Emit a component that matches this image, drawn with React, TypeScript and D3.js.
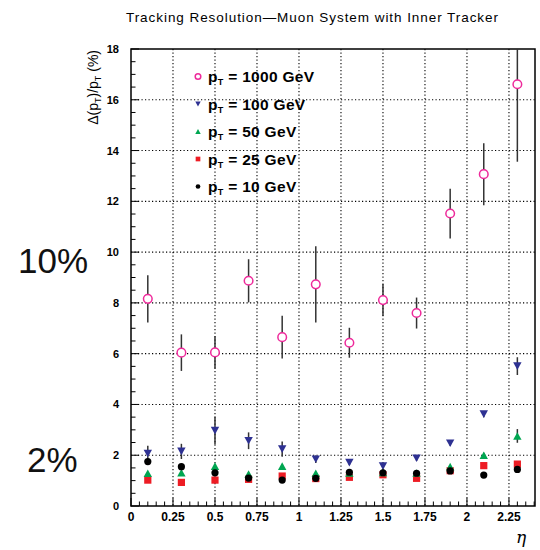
import React from "react";
import * as d3 from "d3";

// eta bin centres
const etaBins = [0.1, 0.3, 0.5, 0.7, 0.9, 1.1, 1.3, 1.5, 1.7, 1.9, 2.1, 2.3];

// resolution in % and errors
const res1000 = [8.16, 6.04, 6.05, 8.87, 6.65, 8.73, 6.43, 8.11, 7.6, 11.52, 13.07, 16.61];
const err1000 = [0.93, 0.72, 0.64, 0.85, 0.84, 1.5, 0.59, 0.63, 0.61, 0.98, 1.22, 3.05];
const res100 = [2.07, 2.15, 2.97, 2.57, 2.24, 1.84, 1.71, 1.57, 1.88, 2.47, 3.62, 5.51];
const err100 = [0.3, 0.3, 0.55, 0.33, 0.3, 0.15, 0.1, 0.1, 0.1, 0.1, 0.12, 0.35];
const res50 = [1.29, 1.31, 1.57, 1.26, 1.57, 1.29, 1.3, 1.32, 1.3, 1.55, 2.0, 2.76];
const err50 = [0.05, 0.05, 0.06, 0.05, 0.06, 0.05, 0.05, 0.05, 0.05, 0.06, 0.1, 0.27];
const res25 = [1.02, 0.93, 1.02, 1.05, 1.18, 1.08, 1.13, 1.23, 1.09, 1.39, 1.59, 1.65];
const res10 = [1.75, 1.55, 1.31, 1.1, 1.02, 1.09, 1.33, 1.31, 1.29, 1.38, 1.22, 1.44];

const legendLabels = ["1000 GeV", "100 GeV", "50 GeV", "25 GeV", "10 GeV"];
const xTicks = [0, 0.25, 0.5, 0.75, 1, 1.25, 1.5, 1.75, 2, 2.25];
const yTicks = [0, 2, 4, 6, 8, 10, 12, 14, 16, 18];

const width = 540;
const height = 550;
const left = 131, right = 535, top = 49, bottom = 506;

const PINK = "#ee2a9b";
const NAVY = "#2e3192";
const GREEN = "#00a651";
const RED = "#ed1c24";

function Marker({ kind, cx, cy, s = 1 }) {
  if (kind === "open")
    return <circle cx={cx} cy={cy} r={4.3 * s} fill="#fff" stroke={PINK} strokeWidth={1.5} />;
  if (kind === "down") {
    const w = 4.2 * s, h = 3.8 * s;
    return <path d={`M${cx - w},${cy - h}L${cx + w},${cy - h}L${cx},${cy + h}Z`} fill={NAVY} />;
  }
  if (kind === "up") {
    const w = 4.2 * s, h = 3.8 * s;
    return <path d={`M${cx - w},${cy + h}L${cx + w},${cy + h}L${cx},${cy - h}Z`} fill={GREEN} />;
  }
  if (kind === "square")
    return <rect x={cx - 3.6 * s} y={cy - 3.6 * s} width={7.2 * s} height={7.2 * s} fill={RED} />;
  return <circle cx={cx} cy={cy} r={3.6 * s} fill="#000" />;
}

export default function App() {
  const x = d3.scaleLinear().domain([0, 2.405]).range([left, right]);
  const y = d3.scaleLinear().domain([0, 18]).range([bottom, top]);

  const series = [
    { kind: "open", vals: res1000, errs: err1000 },
    { kind: "down", vals: res100, errs: err100 },
    { kind: "up", vals: res50, errs: err50 },
    { kind: "square", vals: res25, errs: res25.map(() => 0.04) },
    { kind: "dot", vals: res10, errs: res10.map(() => 0.04) },
  ];
  // draw order: bottom series first so the 1000 GeV ones sit on top
  const drawOrder = [series[3], series[2], series[1], series[4], series[0]];

  const minorY = d3.range(0, 18.01, 0.5);
  const minorX = d3.range(0, 2.401, 0.05);

  return (
    <svg width={width} height={height} style={{ position: "absolute", left: 0, top: 0, background: "#fff" }}
      fontFamily="'Liberation Sans', Arial, sans-serif">
      <defs>
        <clipPath id="plotArea">
          <rect x={left} y={top} width={right - left} height={bottom - top} />
        </clipPath>
      </defs>

      <text x={312} y={22} textAnchor="middle" fontSize={13.5} textLength={372} lengthAdjust="spacing">
        Tracking Resolution—Muon System with Inner Tracker
      </text>

      {/* dotted grid */}
      <g stroke="#000" strokeWidth={1.1} strokeDasharray="1.2,2.3">
        {xTicks.filter((t) => t > 0).map((t) => (
          <line key={"gx" + t} x1={x(t)} x2={x(t)} y1={top} y2={bottom} />
        ))}
        {yTicks.filter((t) => t > 0 && t < 18).map((t) => (
          <line key={"gy" + t} x1={left} x2={right} y1={y(t)} y2={y(t)} />
        ))}
      </g>

      {/* frame */}
      <rect x={left} y={top} width={right - left} height={bottom - top} fill="none" stroke="#000" strokeWidth={1.5} />

      {/* ticks */}
      <g stroke="#000" strokeWidth={1}>
        {minorY.map((t) => (
          <line key={"ty" + t} x1={left} x2={left + (t % 2 === 0 ? 8 : 4.5)} y1={y(t)} y2={y(t)} />
        ))}
        {minorX.map((t) => (
          <line key={"tx" + t} x1={x(t)} x2={x(t)} y1={bottom} y2={bottom - (Math.abs(t / 0.25 - Math.round(t / 0.25)) < 1e-6 ? 8 : 4.5)} />
        ))}
      </g>

      {/* tick labels */}
      <g fontSize={11} fontWeight="bold" textAnchor="end">
        {yTicks.map((t) => (
          <text key={"ly" + t} x={119} y={y(t) + 4}>{t}</text>
        ))}
      </g>
      <g fontSize={12} fontWeight="bold" textAnchor="middle">
        {xTicks.map((t) => (
          <text key={"lx" + t} x={x(t)} y={521}>{t}</text>
        ))}
      </g>

      {/* axis titles */}
      <text transform={`translate(98,50) rotate(-90)`} textAnchor="end" fontSize={14}>
        Δ(p<tspan fontSize={9} dy={3}>T</tspan><tspan dy={-3}>)/p</tspan>
        <tspan fontSize={9} dy={3}>T</tspan><tspan dy={-3}> (%)</tspan>
      </text>
      <text x={521} y={543} textAnchor="middle" fontSize={17} fontStyle="italic" fontFamily="'DejaVu Serif', serif">η</text>

      {/* data */}
      <g clipPath="url(#plotArea)">
        {drawOrder.map((s) => (
          <g key={s.kind}>
            {s.vals.map((v, i) => (
              <line key={i} x1={x(etaBins[i])} x2={x(etaBins[i])} y1={y(v + s.errs[i])} y2={y(v - s.errs[i])}
                stroke="#333" strokeWidth={1.5} />
            ))}
            {s.vals.map((v, i) => (
              <Marker key={"m" + i} kind={s.kind} cx={x(etaBins[i])} cy={y(v)} />
            ))}
          </g>
        ))}
      </g>

      {/* legend */}
      <g>
        {series.map((s, i) => {
          const ly = 76.5 + i * 27.5;
          return (
            <g key={"lg" + i}>
              <Marker kind={s.kind} cx={198} cy={ly} s={0.65} />
              <text x={208} y={ly + 5.5} fontSize={15.5} fontWeight="bold" letterSpacing={0.3}>
                p<tspan fontSize={9} dy={3}>T</tspan><tspan dy={-3}> = {legendLabels[i]}</tspan>
              </text>
            </g>
          );
        })}
      </g>

      {/* big annotations */}
      <text x={18} y={273} fontSize={35} fill="#111">10%</text>
      <text x={27} y={472} fontSize={35} fill="#111">2%</text>
    </svg>
  );
}
